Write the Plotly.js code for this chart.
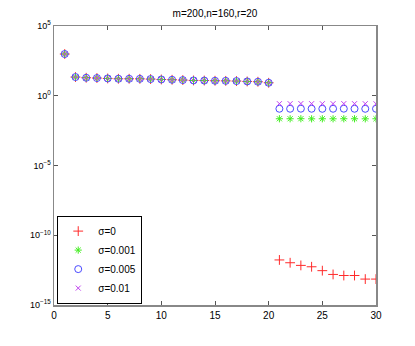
<!DOCTYPE html>
<html>
<head>
<meta charset="utf-8">
<script src="https://cdn.plot.ly/plotly-3.0.1.min.js"></script>
<style>
  html, body { margin: 0; padding: 0; background: #fff; }
  #chart { width: 415px; height: 346px; }
</style>
</head>
<body>
<div id="chart"></div>
<script>
// index 1..30
var xs = [1, 2, 3, 4, 5, 6, 7, 8, 9, 10, 11, 12, 13, 14, 15, 16, 17, 18, 19, 20,
          21, 22, 23, 24, 25, 26, 27, 28, 29, 30];

// first 20 values are the same for every sigma
var headVals = [980, 21.9, 19.5, 18.6, 17.4, 16.5, 16.5, 16.3, 15.7, 14.7,
                14.0, 13.3, 12.5, 12.3, 11.9, 11.7, 11.3, 10.6, 10.1, 8.5];

// values 21..30 per sigma
var tail0    = [1.7e-12, 1.07e-12, 6.9e-13, 5.5e-13, 2.9e-13, 1.55e-13, 1.3e-13, 1.3e-13, 7.2e-14, 7.2e-14];
var tail001  = [0.0224, 0.0224, 0.0226, 0.0222, 0.0224, 0.0223, 0.0225, 0.0224, 0.0222, 0.0224];
var tail005  = [0.117, 0.117, 0.118, 0.117, 0.116, 0.117, 0.118, 0.117, 0.116, 0.117];
var tail01   = [0.27, 0.27, 0.275, 0.27, 0.268, 0.27, 0.272, 0.27, 0.268, 0.265];

var names   = ["σ=0", "σ=0.001", "σ=0.005", "σ=0.01"];
var symbols = ["cross-thin-open", "asterisk-open", "circle-open", "x-thin-open"];
var colors  = ["#ff2a2a", "#44ee22", "#4a4aff", "#c040f0"];
var sizes   = [7, 6, 7, 5];
var tails   = [tail0, tail001, tail005, tail01];

// y ticks every 5 decades
var yTickVals = [1e-15, 1e-10, 1e-5, 1, 1e5];
var yTickText = ["10<sup>−15</sup>", "10<sup>−10</sup>", "10<sup>−5</sup>", "10<sup>0</sup>", "10<sup>5</sup>"];

var data = [];
for (var i = 0; i < names.length; i++) {
    data.push({
        x: xs,
        y: headVals.concat(tails[i]),
        name: names[i],
        type: "scatter",
        mode: "markers",
        marker: {
            symbol: symbols[i],
            color: colors[i],
            size: sizes[i],
            line: { color: colors[i], width: 1 }
        }
    });
}

var axisStyle = {
    showline: true,
    linecolor: "#888888",
    linewidth: 1.5,
    mirror: "ticks",
    ticks: "inside",
    ticklen: 4,
    tickcolor: "#555555",
    showgrid: false,
    zeroline: false,
    tickfont: { size: 10, color: "#000" }
};

var layout = {
    width: 415,
    height: 346,
    margin: { l: 54, r: 39, t: 26, b: 41 },
    paper_bgcolor: "#fff",
    plot_bgcolor: "#fff",
    font: { family: "Liberation Sans, Arial, sans-serif", size: 10, color: "#000" },
    title: {
        text: "m=200,n=160,r=20",
        font: { size: 10 },
        x: 0.5, xref: "paper",
        y: 0.962, yanchor: "middle"
    },
    xaxis: Object.assign({}, axisStyle, {
        range: [0, 30],
        tick0: 0,
        dtick: 5
    }),
    yaxis: Object.assign({}, axisStyle, {
        type: "log",
        range: [-15, 5],
        tickmode: "array",
        tickvals: yTickVals,
        ticktext: yTickText,
        tickfont: { size: 9, color: "#000" }
    }),
    showlegend: true,
    legend: {
        x: 0.01, y: 0.005,
        xanchor: "left", yanchor: "bottom",
        bgcolor: "#fff",
        bordercolor: "#000",
        borderwidth: 1,
        font: { size: 10 }
    }
};

Plotly.newPlot("chart", data, layout, { displayModeBar: false, staticPlot: true });
</script>
</body>
</html>
